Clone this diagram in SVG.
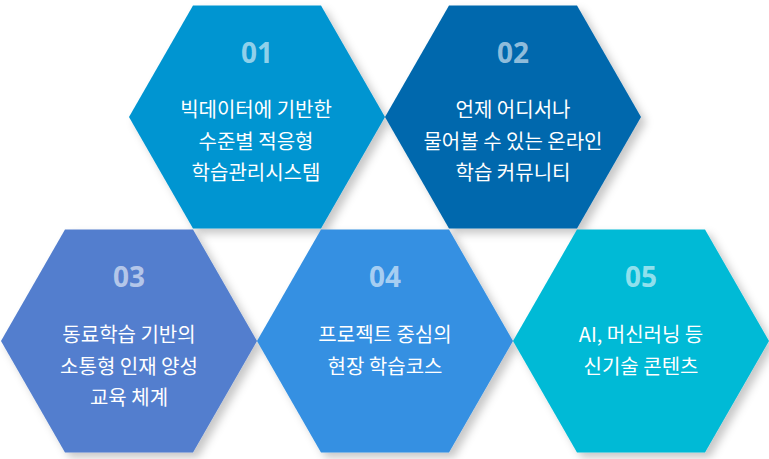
<svg xmlns="http://www.w3.org/2000/svg" width="769" height="459" viewBox="0 0 769 459">
<defs>
<filter id="sh" x="-20%" y="-20%" width="150%" height="150%">
<feDropShadow dx="5" dy="5" stdDeviation="4" flood-color="#000" flood-opacity="0.22"/>
</filter>
<polygon id="hex" points="-128,0 -64,-111.5 64,-111.5 128,0 64,111.5 -64,111.5"/>
</defs>
<style>
.num{font-family:"Noto Sans","Noto Sans CJK KR",sans-serif;font-weight:700;font-size:28px;fill:#fff;fill-opacity:0.58;text-anchor:middle}
.t{font-family:"Noto Sans CJK KR","Noto Sans",sans-serif;font-size:20px;fill:#fff;text-anchor:middle}
</style>
<rect width="769" height="459" fill="#fff"/>
<g id="connectors"></g>
<g id="n01">
<use href="#hex" x="257" y="117" fill="#0095D1" filter="url(#sh)"/>
<text class="num" x="257" y="63">01</text>
<text class="t" x="256" y="116.5">빅데이터에 기반한</text>
<text class="t" x="256" y="149">수준별 적응형</text>
<text class="t" x="256" y="179.5">학습관리시스템</text>
</g>
<g id="n02">
<use href="#hex" x="513" y="117" fill="#0068AD" filter="url(#sh)"/>
<text class="num" x="513" y="63">02</text>
<text class="t" x="513" y="116.5">언제 어디서나</text>
<text class="t" x="513" y="149">물어볼 수 있는 온라인</text>
<text class="t" x="513" y="179.5">학습 커뮤니티</text>
</g>
<g id="n03">
<use href="#hex" x="129" y="341" fill="#527ECE" filter="url(#sh)"/>
<text class="num" x="129" y="287">03</text>
<text class="t" x="129" y="341.5">동료학습 기반의</text>
<text class="t" x="129" y="374">소통형 인재 양성</text>
<text class="t" x="129" y="405">교육 체계</text>
</g>
<g id="n04">
<use href="#hex" x="385" y="341" fill="#3490E2" filter="url(#sh)"/>
<text class="num" x="385" y="287">04</text>
<text class="t" x="385" y="341.5">프로젝트 중심의</text>
<text class="t" x="385" y="374">현장 학습코스</text>
</g>
<g id="n05">
<use href="#hex" x="641" y="341" fill="#00BAD6" filter="url(#sh)"/>
<text class="num" x="641" y="287">05</text>
<text class="t" x="641" y="341.5">AI, 머신러닝 등</text>
<text class="t" x="641" y="374">신기술 콘텐츠</text>
</g>
</svg>
